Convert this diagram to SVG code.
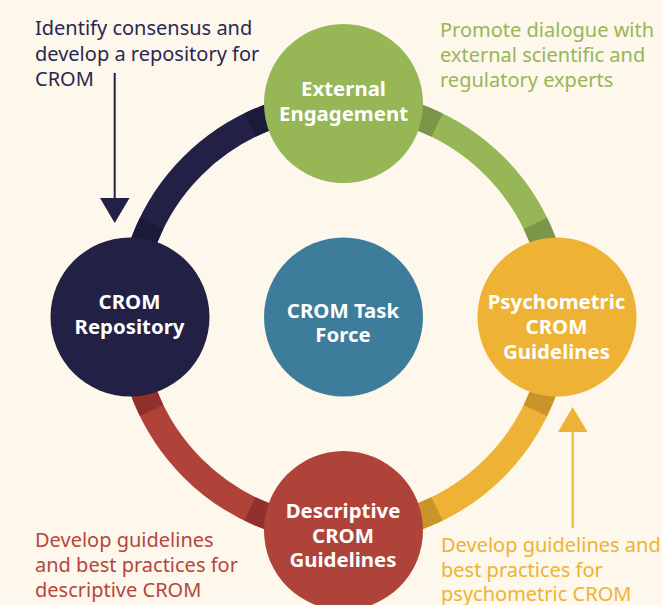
<svg xmlns="http://www.w3.org/2000/svg" width="662" height="605" viewBox="0 0 662 605">
  <style>
    .ring { fill: none; stroke-width: 26; }
    .node-label { font-family: "Noto Sans", "DejaVu Sans", sans-serif; font-weight: 700; font-size: 20.4px; fill: #ffffff; text-anchor: middle; }
    .note { font-family: "Noto Sans", "DejaVu Sans", sans-serif; font-size: 20px; }
  </style>
  <rect width="662" height="605" fill="#fdf7ec"/>

  <!-- ring around the task force: one arc per quadrant, darker bands where it meets each node -->
  <g id="connectors">
    <path class="ring" stroke="#232046" d="M343.5 103.5 A213.5 213.5 0 0 0 130 317"/>
    <path class="ring" stroke="#97b655" d="M343.5 103.5 A213.5 213.5 0 0 1 557 317"/>
    <path class="ring" stroke="#eeb334" d="M557 317 A213.5 213.5 0 0 1 343.5 530.5"/>
    <path class="ring" stroke="#b04339" d="M343.5 530.5 A213.5 213.5 0 0 1 130 317"/>

    <path class="ring" stroke="#1c1a3b" d="M343.5 103.5 A213.5 213.5 0 0 0 249.91 125.11 M151.61 223.41 A213.5 213.5 0 0 0 130 317"/>
    <path class="ring" stroke="#7b9549" d="M343.5 103.5 A213.5 213.5 0 0 1 437.09 125.11 M535.39 223.41 A213.5 213.5 0 0 1 557 317"/>
    <path class="ring" stroke="#c9952a" d="M557 317 A213.5 213.5 0 0 1 535.39 410.59 M437.09 508.89 A213.5 213.5 0 0 1 343.5 530.5"/>
    <path class="ring" stroke="#91302d" d="M343.5 530.5 A213.5 213.5 0 0 1 249.91 508.89 M151.61 410.59 A213.5 213.5 0 0 1 130 317"/>

    <!-- pointer arrows -->
    <line x1="114.7" y1="73" x2="114.7" y2="200" stroke="#232046" stroke-width="2"/>
    <polygon points="100,198 129.5,198 114.7,223" fill="#232046"/>
    <line x1="572.7" y1="528" x2="572.7" y2="430" stroke="#eeb334" stroke-width="2"/>
    <polygon points="558,432 587.5,432 572.7,407" fill="#eeb334"/>
  </g>

  <g id="external-engagement">
    <circle cx="343.5" cy="103.5" r="79.5" fill="#97b655"/>
    <text class="node-label" x="343.5" y="96">External</text>
    <text class="node-label" x="343.5" y="120.5">Engagement</text>
  </g>

  <g id="crom-repository">
    <circle cx="130" cy="317" r="79.5" fill="#232046"/>
    <text class="node-label" x="129.5" y="309">CROM</text>
    <text class="node-label" x="129.5" y="333.5">Repository</text>
  </g>

  <g id="crom-task-force">
    <circle cx="343.5" cy="317" r="79.5" fill="#3e7c9b"/>
    <text class="node-label" x="343" y="317.5">CROM Task</text>
    <text class="node-label" x="343" y="342">Force</text>
  </g>

  <g id="psychometric-guidelines">
    <circle cx="557" cy="317" r="79.5" fill="#eeb334"/>
    <text class="node-label" x="556.5" y="308.5">Psychometric</text>
    <text class="node-label" x="556.5" y="334">CROM</text>
    <text class="node-label" x="556.5" y="359">Guidelines</text>
  </g>

  <g id="descriptive-guidelines">
    <circle cx="343.5" cy="530.5" r="79.5" fill="#b04339"/>
    <text class="node-label" x="343" y="517.5">Descriptive</text>
    <text class="node-label" x="343" y="542.5">CROM</text>
    <text class="node-label" x="343" y="567">Guidelines</text>
  </g>

  <!-- notes -->
  <g id="note-repository" class="note" fill="#2a2850">
    <text x="35" y="35">Identify consensus and</text>
    <text x="35" y="61">develop a repository for</text>
    <text x="35" y="86">CROM</text>
  </g>
  <g id="note-engagement" class="note" fill="#97b655">
    <text x="440" y="36.5">Promote dialogue with</text>
    <text x="440" y="62">external scientific and</text>
    <text x="440" y="87">regulatory experts</text>
  </g>
  <g id="note-descriptive" class="note" fill="#b5463c">
    <text x="35" y="546.5">Develop guidelines</text>
    <text x="35" y="571.5">and best practices for</text>
    <text x="35" y="596.5">descriptive CROM</text>
  </g>
  <g id="note-psychometric" class="note" fill="#eeb334">
    <text x="441" y="551.5">Develop guidelines and</text>
    <text x="441" y="576.5">best practices for</text>
    <text x="441" y="601">psychometric CROM</text>
  </g>
</svg>
